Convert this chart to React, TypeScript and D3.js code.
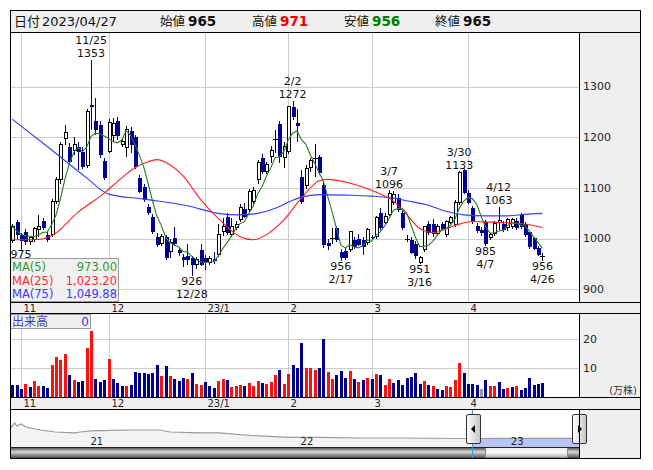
import * as d3 from "d3";
import { useEffect, useRef } from "react";

const FONT = "'DejaVu Sans', 'Noto Sans CJK JP', sans-serif";

// daily candles, 2022/10/28 .. 2023/04/27
const opens = [996, 1032, 1008, 1014, 994, 998, 1018, 1034, 1008, 1008,
    1073, 1116, 1197, 1180, 1175, 1181, 1172, 1144, 1264, 1233,
    1225, 1154, 1173, 1203, 1233, 1185, 1180, 1212, 1201, 1120,
    1103, 1063, 1043, 1004, 990, 1004, 975, 1002, 978, 964,
    966, 962, 950, 978, 962, 953, 960, 968, 1014, 1043,
    1008, 1022, 1037, 1059, 1057, 1073, 1116, 1160, 1132, 1163,
    1197, 1227, 1160, 1172, 1260, 1228, 1122, 1104, 1140, 1160,
    1162, 1106, 992, 1002, 1022, 974, 976, 978, 998, 1000,
    998, 992, 1004, 1004, 1051, 1032, 1047, 1071, 1081, 1051,
    1000, 998, 990, 953, 978, 1028, 1028, 1010, 1028, 1008,
    1032, 1028, 1071, 1136, 1091, 1061, 1026, 1018, 1032, 1002,
    1010, 1032, 1028, 1022, 1024, 1035, 1047, 1028, 1014, 1002,
    982, 965];
const highs = [1028, 1036, 1012, 1020, 1006, 1024, 1046, 1040, 1014, 1078,
    1122, 1190, 1225, 1188, 1200, 1190, 1180, 1256, 1353, 1278,
    1232, 1160, 1236, 1238, 1240, 1198, 1222, 1220, 1205, 1126,
    1108, 1068, 1048, 1012, 1010, 1008, 1000, 1024, 984, 970,
    990, 966, 964, 990, 968, 966, 974, 1028, 1040, 1050,
    1040, 1034, 1068, 1070, 1098, 1102, 1156, 1168, 1152, 1182,
    1215, 1232, 1190, 1262, 1272, 1256, 1135, 1145, 1160, 1187,
    1166, 1110, 1000, 1022, 1026, 980, 982, 1016, 1004, 1010,
    1004, 1022, 1008, 1044, 1060, 1050, 1096, 1094, 1088, 1056,
    1008, 1004, 996, 966, 1026, 1034, 1038, 1028, 1032, 1036,
    1044, 1076, 1133, 1138, 1096, 1064, 1030, 1024, 1036, 1012,
    1034, 1063, 1034, 1040, 1040, 1040, 1050, 1032, 1016, 1004,
    986, 971];
const lows = [992, 1000, 975, 988, 988, 994, 1004, 1018, 994, 1004,
    1068, 1108, 1185, 1148, 1165, 1136, 1138, 1140, 1215, 1205,
    1160, 1116, 1170, 1190, 1195, 1180, 1162, 1170, 1138, 1090,
    1072, 1046, 1010, 984, 986, 958, 962, 986, 966, 944,
    948, 926, 940, 946, 938, 948, 950, 964, 1006, 1008,
    1004, 1018, 1032, 1040, 1052, 1068, 1108, 1128, 1128, 1150,
    1170, 1150, 1140, 1168, 1235, 1190, 1068, 1098, 1132, 1122,
    1126, 982, 978, 990, 994, 956, 958, 974, 980, 986,
    968, 988, 1000, 1000, 1018, 1028, 1044, 1066, 1052, 1018,
    994, 970, 960, 951, 974, 1008, 1004, 1006, 1018, 1004,
    1028, 1024, 1066, 1088, 1068, 1028, 1012, 1006, 985, 998,
    1006, 1018, 1014, 1016, 1020, 1018, 1020, 1004, 980, 978,
    966, 956];
const closes = [1024, 1008, 996, 994, 1002, 1020, 1024, 1022, 998, 1073,
    1116, 1185, 1209, 1152, 1185, 1172, 1142, 1252, 1260, 1215,
    1166, 1120, 1230, 1227, 1203, 1191, 1215, 1184, 1142, 1093,
    1077, 1051, 1014, 988, 1004, 962, 992, 990, 972, 957,
    958, 948, 958, 949, 953, 960, 955, 1008, 1024, 1012,
    1024, 1028, 1061, 1043, 1093, 1095, 1150, 1132, 1146, 1175,
    1197, 1162, 1181, 1260, 1241, 1222, 1073, 1138, 1154, 1160,
    1130, 988, 985, 1002, 998, 962, 962, 1014, 984, 988,
    984, 1018, 1002, 1041, 1022, 1043, 1089, 1087, 1057, 1022,
    1000, 972, 966, 962, 1024, 1012, 1010, 1024, 1020, 1034,
    1041, 1071, 1131, 1091, 1071, 1032, 1016, 1012, 990, 1008,
    1030, 1036, 1018, 1037, 1037, 1022, 1024, 1008, 984, 980,
    968, 965];

// volume in 万株, with colour code (r up, b down, g flat)
const volumes = [4.2, 4.2, 2.7, 4.5, 3.4, 5.5, 3.8, 3.8, 3.0, 11.1,
    13.7, 12.8, 14.9, 7.6, 5.8, 5.2, 5.5, 17.1, 22.9, 6.4,
    5.2, 6.0, 13.2, 6.4, 5.0, 3.8, 3.8, 4.2, 8.7, 8.3,
    8.3, 7.9, 8.3, 11.1, 7.3, 10.7, 7.3, 6.3, 5.5, 6.7,
    6.3, 8.3, 4.5, 4.2, 5.2, 3.8, 3.1, 5.5, 6.3, 5.8,
    3.6, 3.8, 4.2, 3.8, 5.0, 3.8, 5.5, 5.0, 4.5, 5.2,
    7.6, 9.4, 4.5, 7.9, 11.1, 10.1, 18.8, 10.1, 10.1, 9.4,
    10.1, 20.0, 8.8, 6.2, 7.6, 9.0, 6.7, 9.0, 6.2, 5.2,
    5.8, 6.6, 6.2, 7.9, 7.6, 4.2, 6.2, 5.0, 5.8, 4.2,
    6.6, 6.8, 8.3, 4.5, 5.5, 4.2, 3.8, 2.7, 2.3, 3.8,
    3.5, 5.8, 11.8, 8.3, 4.5, 4.5, 4.2, 2.7, 5.8, 3.8,
    3.8, 5.2, 2.7, 3.1, 3.5, 3.8, 2.3, 3.1, 6.6, 4.2,
    4.5, 4.9];
const volumeDir = ("bbbrbrrbbr" + "rrrbrbbrrb" + "bbrbbbrbbb" + "bbbbrbrbbb" + "rbrrbbbrrb" +
    "rrrbrrrbrr" + "rbrrbbbrrr" + "bbrrbbbrbr" + "brbrbrrbbb" + "bbbbrbrbbr" +
    "rrrbbbbgbr" + "rbbrbrbbbb" + "bb").split("");

const monthStarts = [2, 22, 44, 63, 82, 104];
const monthLabels = ["11", "12", "23/1", "2", "3", "4"];
const priceTicks = [900, 1000, 1100, 1200, 1300];
const volumeTicks = [10, 20];

// moving averages (MA5 is computed from closes)
const ma25Index = [0, 5, 9, 15, 21, 25, 28, 31, 33, 36, 39, 43, 47, 52, 55, 58, 62, 66, 70, 72, 77, 83, 87, 90, 93, 96, 101, 105, 111, 116, 121];
const ma25Values = [998, 998, 1006, 1052, 1090, 1120, 1140, 1152, 1156, 1146, 1124, 1077, 1040, 1004, 998, 1008, 1037, 1080, 1114, 1117, 1110, 1092, 1074, 1048, 1020, 1012, 1026, 1034, 1032, 1030, 1022];
const ma75Index = [0, 8, 17, 22, 30, 40, 47, 52, 56, 60, 64, 66, 70, 76, 82, 87, 90, 95, 99, 103, 108, 113, 117, 121];
const ma75Values = [1236, 1182, 1120, 1088, 1078, 1065, 1050, 1047, 1050, 1060, 1076, 1082, 1087, 1086, 1084, 1080, 1075, 1066, 1054, 1047, 1045, 1045, 1048, 1050];

const legendNames = ["MA(5)", "MA(25)", "MA(75)"];
const legendValues = ["973.00", "1,023.20", "1,049.88"];
const legendColors = ["#2e9a2e", "#ff2a2a", "#3a3aff"];
const lineColors = ["#267f26", "#ff2020", "#2f3fff"];

const highMarkIndex = [18, 64, 86, 102, 111];
const highMarkDates = ["11/25", "2/2", "3/7", "3/30", "4/12"];
// the first low's date sits under the legend in the original, so only its value shows
const lowMarkIndex = [2, 41, 75, 93, 108, 121];
const lowMarkDates = ["", "12/28", "2/17", "3/16", "4/7", "4/26"];
const lowMarkValues = [975, 926, 956, 951, 985, 956];

// navigator (long-term price)
const navDates = ["2020-08-13", "2020-08-20", "2020-08-24", "2020-08-31", "2020-09-09", "2020-10-04",
    "2020-10-30", "2020-12-02", "2020-12-12", "2020-12-30", "2021-01-16", "2021-03-08", "2021-04-29",
    "2021-05-17", "2021-07-08", "2021-08-11", "2021-10-03", "2021-12-11", "2022-02-01", "2022-04-11",
    "2022-06-19", "2022-10-11", "2023-04-27"];
const navValues = [2190, 2770, 2420, 2650, 2310, 1960, 1730, 1620, 1730, 1850, 1900, 1960, 1960,
    1730, 1620, 1620, 1330, 1100, 1100, 1040, 1040, 980, 1000];
const navYears = ["21", "22", "23"];

export default function App() {
    const ref = useRef<SVGSVGElement | null>(null);

    useEffect(() => {
        if (!ref.current) return;
        const svg = d3.select(ref.current);
        svg.selectAll("*").remove();
        svg.attr("font-family", FONT);

        const N = closes.length;
        const x = d3.scaleBand<number>().domain(d3.range(N)).range([10, 10 + N * 4.382]);
        const cx = (i: number) => (x(i) ?? 0) + x.bandwidth() / 2;
        const px = (i: number) => Math.round(cx(i)) + 0.5;
        const y = d3.scaleLinear().domain([875, 1408]).range([302, 32]);
        const yv = d3.scaleLinear().domain([0, 28.77]).range([397, 314]);

        const text = (x0: number, y0: number, s: string, size = 11, fill = "#000", anchor = "start", weight = "normal") =>
            svg.append("text")
                .attr("x", x0).attr("y", y0)
                .attr("font-size", size).attr("fill", fill)
                .attr("text-anchor", anchor).attr("font-weight", weight)
                .attr("dominant-baseline", "central")
                .text(s);

        const defs = svg.append("defs");
        defs.append("clipPath").attr("id", "pclip")
            .append("rect").attr("x", 10).attr("y", 32).attr("width", 569).attr("height", 270);
        defs.append("clipPath").attr("id", "selclip")
            .append("rect").attr("x", 472).attr("y", 410).attr("width", 107).attr("height", 40);
        const gBar = defs.append("linearGradient").attr("id", "gbar").attr("x1", 0).attr("y1", 0).attr("x2", 0).attr("y2", 1);
        gBar.append("stop").attr("offset", 0).attr("stop-color", "#3a3a3a");
        gBar.append("stop").attr("offset", 0.45).attr("stop-color", "#d8d8d8");
        gBar.append("stop").attr("offset", 1).attr("stop-color", "#4a4a4a");
        const gThumb = defs.append("linearGradient").attr("id", "gthumb").attr("x1", 0).attr("y1", 0).attr("x2", 0).attr("y2", 1);
        gThumb.append("stop").attr("offset", 0).attr("stop-color", "#e8e8e8");
        gThumb.append("stop").attr("offset", 0.5).attr("stop-color", "#fafafa");
        gThumb.append("stop").attr("offset", 1).attr("stop-color", "#b0b0b0");
        const gHandle = defs.append("linearGradient").attr("id", "ghandle").attr("x1", 0).attr("y1", 0).attr("x2", 1).attr("y2", 0);
        gHandle.append("stop").attr("offset", 0).attr("stop-color", "#ffffff");
        gHandle.append("stop").attr("offset", 1).attr("stop-color", "#c4c4c4");

        // backgrounds
        svg.append("rect").attr("x", 10).attr("y", 10).attr("width", 630).attr("height", 448).attr("fill", "#fff");
        const grey = "#efefef";
        svg.append("rect").attr("x", 10).attr("y", 10).attr("width", 630).attr("height", 22).attr("fill", grey);
        svg.append("rect").attr("x", 579).attr("y", 32).attr("width", 61).attr("height", 426).attr("fill", grey);
        svg.append("rect").attr("x", 10).attr("y", 302).attr("width", 630).attr("height", 12).attr("fill", grey);
        svg.append("rect").attr("x", 10).attr("y", 397).attr("width", 630).attr("height", 13).attr("fill", grey);

        // grid
        const grid = svg.append("g").attr("stroke", "#cccccc").attr("shape-rendering", "crispEdges");
        priceTicks.forEach(t => grid.append("line").attr("x1", 10).attr("x2", 579)
            .attr("y1", Math.round(y(t)) + 0.5).attr("y2", Math.round(y(t)) + 0.5));
        volumeTicks.forEach(t => grid.append("line").attr("x1", 10).attr("x2", 579)
            .attr("y1", Math.round(yv(t)) + 0.5).attr("y2", Math.round(yv(t)) + 0.5));
        monthStarts.forEach(i => {
            grid.append("line").attr("x1", px(i)).attr("x2", px(i)).attr("y1", 32).attr("y2", 302);
            grid.append("line").attr("x1", px(i)).attr("x2", px(i)).attr("y1", 314).attr("y2", 397);
        });

        // candles
        const navy = "#00008f";
        const cg = svg.append("g").attr("clip-path", "url(#pclip)").attr("shape-rendering", "crispEdges");
        d3.range(N).forEach(i => {
            const o = opens[i], c = closes[i];
            const up = c > o, flat = c === o;
            const col = up || flat ? "#000" : navy;
            const xm = px(i);
            cg.append("line").attr("x1", xm).attr("x2", xm)
                .attr("y1", y(highs[i])).attr("y2", y(lows[i])).attr("stroke", col);
            if (flat) {
                cg.append("line").attr("x1", xm - 2.5).attr("x2", xm + 2.5)
                    .attr("y1", Math.round(y(c)) + 0.5).attr("y2", Math.round(y(c)) + 0.5).attr("stroke", "#000");
            } else if (up) {
                cg.append("rect").attr("x", xm - 1.5).attr("width", 3)
                    .attr("y", y(c)).attr("height", Math.max(1, y(o) - y(c)))
                    .attr("fill", "#fff").attr("stroke", "#000");
            } else {
                cg.append("rect").attr("x", xm - 1.5).attr("width", 4)
                    .attr("y", y(o)).attr("height", Math.max(1, y(c) - y(o)))
                    .attr("fill", navy);
            }
        });

        // moving averages
        const ma5 = closes.map((_, i) => d3.mean(closes.slice(Math.max(0, i - 4), i + 1)) ?? 0);
        const lg = svg.append("g").attr("clip-path", "url(#pclip)").attr("fill", "none").attr("stroke-width", 1.1);
        const lineIdx = d3.line<[number, number]>().x(d => cx(d[0])).y(d => y(d[1])).curve(d3.curveMonotoneX);
        lg.append("path").attr("stroke", lineColors[2])
            .attr("d", lineIdx(ma75Index.map((i, k) => [i, ma75Values[k]])) ?? "");
        lg.append("path").attr("stroke", lineColors[1])
            .attr("d", lineIdx(ma25Index.map((i, k) => [i, ma25Values[k]])) ?? "");
        lg.append("path").attr("stroke", lineColors[0])
            .attr("d", d3.line<number>().x((_, i) => cx(i)).y(d => y(d))(ma5) ?? "");

        // high / low marks
        highMarkIndex.forEach((i, k) => {
            const hy = y(highs[i]);
            text(cx(i), hy - 6, String(highs[i]), 11, "#111", "middle");
            text(cx(i), hy - 19, highMarkDates[k], 11, "#111", "middle");
        });
        lowMarkIndex.forEach((i, k) => {
            const ly = y(lowMarkValues[k]);
            text(cx(i), ly + (k === 0 ? 3.5 : 5.5), String(lowMarkValues[k]), 11, "#111", "middle");
            if (lowMarkDates[k]) text(cx(i), ly + 18.5, lowMarkDates[k], 11, "#111", "middle");
        });

        // legend
        svg.append("rect").attr("x", 10.5).attr("y", 258.5).attr("width", 108).attr("height", 43)
            .attr("fill", "#f0f0f0").attr("fill-opacity", 0.92).attr("stroke", "#9a9a9a");
        legendNames.forEach((n, k) => {
            text(12, 267 + k * 13.6, n, 11.5, legendColors[k]);
            text(117, 267 + k * 13.6, legendValues[k], 11.5, legendColors[k], "end");
        });

        // volume bars
        const vcol: Record<string, string> = { r: "#ff1010", b: navy, g: "#999999" };
        svg.append("g").attr("shape-rendering", "crispEdges")
            .selectAll("rect").data(volumes).join("rect")
            .attr("x", (_, i) => px(i) - 1.5).attr("width", 3)
            .attr("y", d => yv(d)).attr("height", d => yv(0) - yv(d))
            .attr("fill", (_, i) => vcol[volumeDir[i]]);
        svg.append("rect").attr("x", 10.5).attr("y", 314.5).attr("width", 80).attr("height", 14)
            .attr("fill", "#f0f0f0").attr("stroke", "#9a9a9a");
        text(12, 321.5, "出来高", 12, "#3a3acc");
        text(89, 321.5, "0", 12, "#3a3acc", "end");

        // axis labels
        priceTicks.forEach(t => text(583, y(t), String(t), 11, "#222"));
        volumeTicks.forEach(t => text(583, yv(t), String(t), 11, "#222"));
        text(637, 390.5, "(万株)", 10, "#333", "end");
        monthStarts.forEach((i, k) => {
            text(px(i) + 2, 308, monthLabels[k], 10, "#222");
            text(px(i) + 2, 403.5, monthLabels[k], 10, "#222");
        });

        // header
        const last = N - 1;
        text(14, 21, "日付", 13, "#111");
        text(42, 21, "2023/04/27", 13, "#111");
        const heads: [string, number, number, string][] = [
            ["始値", 160, opens[last], "#111"],
            ["高値", 252, highs[last], "#ee0000"],
            ["安値", 344, lows[last], "#007a00"],
            ["終値", 435, closes[last], "#111"],
        ];
        heads.forEach(([n, hx, v, col]) => {
            text(hx, 21, n, 12.5, "#111");
            text(hx + 28, 21, String(v), 13.5, col, "start", "bold");
        });

        // navigator
        const nx = d3.scaleTime().domain([new Date(2020, 7, 12), new Date(2023, 3, 27)]).range([10, 579]);
        const ny = d3.scaleLinear().domain([0, 3000]).range([447, 421]);
        const navData = navDates.map((s, k) => [new Date(s), navValues[k]] as [Date, number]);
        const area = d3.area<[Date, number]>().x(d => nx(d[0])).y0(447).y1(d => ny(d[1]));
        svg.append("path").attr("d", area(navData) ?? "").attr("fill", "#f3f3f3");
        svg.append("path").attr("d", area(navData) ?? "").attr("fill", "#b8c6f6").attr("clip-path", "url(#selclip)");
        svg.append("path").attr("d", d3.line<[Date, number]>().x(d => nx(d[0])).y(d => ny(d[1]))(navData) ?? "")
            .attr("fill", "none").attr("stroke", "#9a9a9a").attr("stroke-width", 1.2);
        navYears.forEach((s, k) => text(nx(new Date(2021 + k, 0, 1)) + 5, 441, s, 10, "#222", "middle"));

        // scrollbar
        svg.append("rect").attr("x", 10).attr("y", 447).attr("width", 569).attr("height", 11).attr("fill", "url(#gbar)");
        svg.append("rect").attr("x", 485.5).attr("y", 447.5).attr("width", 82).attr("height", 10)
            .attr("fill", "url(#gthumb)").attr("stroke", "#888");
        svg.append("line").attr("x1", 10).attr("x2", 579).attr("y1", 447.5).attr("y2", 447.5).attr("stroke", "#222");

        // selection lines and handles
        [472.5, 579.5].forEach(lx => svg.append("line").attr("x1", lx).attr("x2", lx)
            .attr("y1", 410).attr("y2", 458).attr("stroke", "#2c9fd8"));
        [[466.5, -1], [572.5, 1]].forEach(([hx, dir]) => {
            svg.append("rect").attr("x", hx).attr("y", 414.5).attr("width", 14).attr("height", 29).attr("rx", 1.5)
                .attr("fill", "url(#ghandle)").attr("stroke", "#333");
            const mx = hx + 7, my = 429;
            svg.append("path").attr("fill", "#000")
                .attr("d", `M${mx + dir * 2.5},${my} L${mx - dir * 1.5},${my - 4} L${mx - dir * 1.5},${my + 4} Z`);
        });

        // frame lines
        const fr = svg.append("g").attr("stroke", "#000").attr("fill", "none").attr("shape-rendering", "crispEdges");
        fr.append("rect").attr("x", 10.5).attr("y", 10.5).attr("width", 630).attr("height", 448);
        [32.5, 302.5, 313.5, 397.5, 409.5].forEach(ly => fr.append("line")
            .attr("x1", 10).attr("x2", 640).attr("y1", ly).attr("y2", ly));
        [[32, 302], [314, 397], [410, 458]].forEach(([a, b]) => fr.append("line")
            .attr("x1", 579.5).attr("x2", 579.5).attr("y1", a).attr("y2", b));
    }, []);

    return (
        <svg ref={ref} width={653} height={470}
            style={{ position: "absolute", left: 0, top: 0, display: "block" }} />
    );
}
